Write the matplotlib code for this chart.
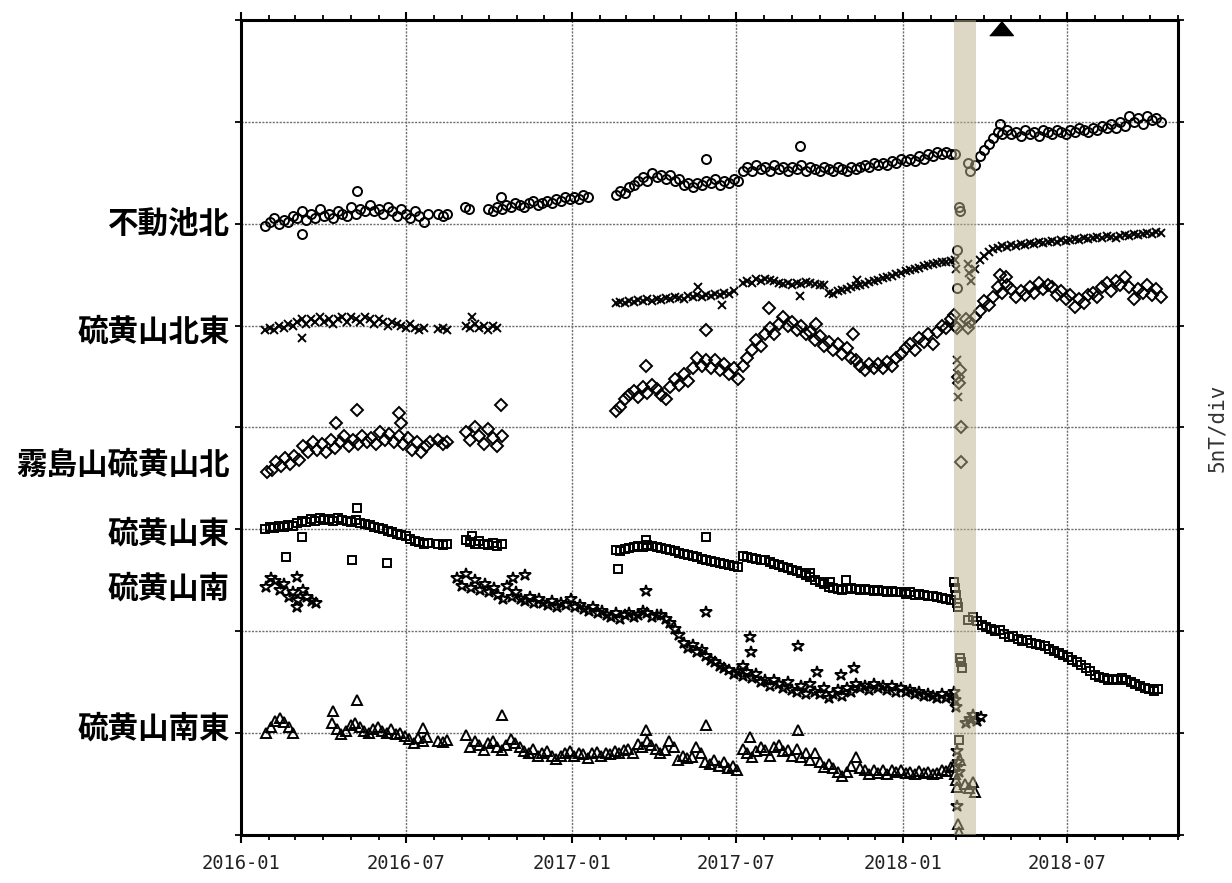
import pandas as pd
import matplotlib
matplotlib.use('Agg')
import matplotlib.pyplot as plt
import matplotlib.dates as mdates

STEP = 5  # days between samples inside a run

stations = ['不動池北', '硫黄山北東', '霧島山硫黄山北', '硫黄山東', '硫黄山南', '硫黄山南東']
label_levels = [30.0, 24.7, 18.2, 14.8, 12.1, 5.2]
markers = ['o', 'x', 'D', 's', '*', '^']
msizes = [6.5, 6.0, 6.0, 5.8, 9.0, 7.2]

# ---- 不動池北 (nT, runs sampled every STEP days) ----
fudo_runs = [
    ('2016-01-28', [29.9, 30.1, 30.3, 30.0, 30.2, 30.1, 30.4, 30.3, 30.6, 30.2, 30.5, 30.3, 30.7, 30.4,
                    30.5, 30.3, 30.6, 30.5, 30.4, 30.8, 30.5, 30.7, 30.6, 30.9, 30.6, 30.7, 30.5, 30.8,
                    30.6, 30.4, 30.7, 30.5, 30.3, 30.6, 30.4, 30.1, 30.5]),
    ('2016-08-06', [30.5, 30.4, 30.5]),
    ('2016-09-04', [30.8, 30.7]),
    ('2016-09-30', [30.7, 30.6, 30.8, 30.7, 30.9, 30.8, 31.0, 30.9, 30.8, 31.0, 31.1, 30.9, 31.0, 31.1,
                    31.0, 31.2, 31.1, 31.3, 31.2, 31.3, 31.2, 31.4, 31.3]),
    ('2017-02-18', [31.4, 31.6, 31.5, 31.8, 31.9, 32.1, 32.3, 32.1, 32.5, 32.3, 32.4, 32.2, 32.4, 32.1,
                    32.2, 31.9, 32.0, 31.8, 32.0, 31.9, 32.1, 32.0, 32.2, 31.9, 32.1, 32.0, 32.2, 32.1,
                    32.6, 32.8, 32.6, 32.9, 32.7, 32.8, 32.6, 32.9, 32.7, 32.8, 32.6, 32.8, 32.7, 32.9,
                    32.6, 32.8, 32.7, 32.6, 32.8, 32.7, 32.6, 32.8, 32.7, 32.6, 32.8, 32.7, 32.8, 32.9,
                    32.8, 33.0, 32.9, 33.0, 32.9, 33.1, 33.0, 33.2, 33.1, 33.2, 33.1, 33.3, 33.2, 33.4,
                    33.3, 33.5, 33.4, 33.5, 33.4]),
    ('2018-03-22', [32.9, 33.3, 33.6, 33.9, 34.2, 34.5, 34.4, 34.6, 34.4, 34.5, 34.3, 34.6, 34.4, 34.5,
                    34.3, 34.6, 34.5, 34.4, 34.6, 34.5, 34.4, 34.6, 34.5, 34.7, 34.6, 34.5, 34.7, 34.6,
                    34.8, 34.7, 34.9, 34.7, 35.0, 34.8, 35.3, 35.0, 35.2, 34.9, 35.3, 35.1, 35.2, 35.0]),
]
fudo_extra = [('2016-03-08', 29.5), ('2016-05-08', 31.6), ('2016-10-14', 31.3), ('2017-05-29', 33.2),
              ('2017-09-10', 33.8), ('2018-02-28', 33.4), ('2018-03-02', 28.7), ('2018-03-02', 26.85),
              ('2018-03-04', 30.8), ('2018-03-05', 30.6), ('2018-03-14', 33.0), ('2018-03-16', 32.6),
              ('2018-04-18', 34.9)]

# ---- 硫黄山北東 ----
kitato_runs = [
    ('2016-01-28', [24.8, 24.9, 24.8, 25.0, 24.9, 25.1, 25.0, 25.2, 25.3, 25.1, 25.3, 25.2, 25.4, 25.2,
                    25.3, 25.1, 25.3, 25.4, 25.2, 25.4, 25.3, 25.2, 25.4, 25.3, 25.1, 25.3, 25.2, 25.0,
                    25.2, 25.1, 25.0, 24.9, 25.1, 24.9, 24.8, 24.9]),
    ('2016-08-06', [24.85, 24.9, 24.8]),
    ('2016-09-05', [25.0, 24.9, 25.1, 24.9, 25.0, 24.8, 25.0, 24.9]),
    ('2017-02-18', [26.1, 26.15, 26.1, 26.2, 26.15, 26.25, 26.2, 26.3, 26.2, 26.3, 26.25, 26.35, 26.3,
                    26.4, 26.35, 26.3, 26.45, 26.4, 26.5, 26.4, 26.5, 26.45, 26.55, 26.5, 26.6, 26.55,
                    26.7]),
    ('2017-07-08', [27.1, 27.2, 27.1, 27.3, 27.2, 27.3, 27.25, 27.2, 27.1, 27.05, 27.1, 27.0, 27.1,
                    27.05, 27.15, 27.1, 27.05, 27.0, 27.0, 26.6, 26.55, 26.7, 26.75, 26.8, 26.9, 26.95,
                    27.0, 27.05, 27.15, 27.2, 27.25, 27.35, 27.4, 27.45, 27.55, 27.6, 27.7, 27.75, 27.8,
                    27.85, 27.9, 27.95, 28.0, 28.05, 28.1, 28.1, 28.15]),
    ('2018-03-22', [27.8, 28.2, 28.4, 28.6, 28.75, 28.8, 28.9, 28.85, 28.95, 28.9, 29.0, 28.95, 29.05,
                    29.0, 29.1, 29.05, 29.1, 29.15, 29.1, 29.2, 29.15, 29.2, 29.25, 29.2, 29.3, 29.25,
                    29.3, 29.35, 29.3, 29.4, 29.35, 29.3, 29.4, 29.45, 29.4, 29.5, 29.45, 29.5, 29.55,
                    29.5, 29.6, 29.55]),
]
kitato_extra = [('2016-03-08', 24.4), ('2016-09-12', 25.4), ('2017-05-20', 26.9), ('2017-06-15', 26.0),
                ('2017-09-10', 26.45), ('2017-11-11', 27.25), ('2018-02-28', 28.2), ('2018-03-01', 27.8),
                ('2018-03-02', 23.3), ('2018-03-03', 21.5), ('2018-03-14', 28.0), ('2018-03-15', 27.6),
                ('2018-03-17', 27.2)]

# ---- 霧島山硫黄山北 ----
kita_runs = [
    ('2016-01-30', [17.8, 17.9, 18.3, 18.1, 18.5, 18.2, 18.6, 18.4, 19.1, 18.8, 19.3, 18.9, 19.2, 18.8,
                    19.4, 19.0, 19.3, 19.6, 19.1, 19.4, 19.2, 19.6, 19.3, 19.5, 19.2, 19.8, 19.4, 19.7,
                    19.3, 19.6, 19.2, 19.5, 18.9, 19.3, 18.8, 19.1, 19.3]),
    ('2016-08-06', [19.4, 19.2, 19.3]),
    ('2016-09-05', [19.8, 19.4, 20.0, 19.6, 19.2, 19.9, 19.5, 19.1, 19.6]),
    ('2017-02-18', [20.8, 21.0, 21.4, 21.6, 21.8, 21.5, 22.0, 21.7, 22.1, 21.9, 21.6, 21.4, 22.0, 22.4,
                    22.1, 22.6, 22.3, 22.9, 23.4, 23.0, 23.3, 22.9, 23.3, 22.8, 23.1, 22.6, 22.9, 22.4]),
    ('2017-07-08', [23.0, 23.4, 23.8, 24.3, 24.0, 24.6, 24.9, 24.6, 25.1, 25.4, 25.0, 25.2, 24.8, 25.0,
                    24.6, 24.7, 24.3, 24.5, 24.0, 24.2, 23.8, 24.1, 23.6, 23.9, 23.4, 23.3, 23.0, 22.8,
                    23.1, 22.9, 23.1, 22.9, 23.2, 23.0, 23.4, 23.6, 23.9, 24.1, 23.8, 24.4, 24.2, 24.6,
                    24.1, 24.7, 25.0, 24.9, 25.3]),
    ('2018-03-22', [25.4, 25.7, 26.2, 26.0, 26.4, 26.9, 26.6, 27.0, 26.8, 26.4, 26.7, 26.5, 26.9, 26.6,
                    27.1, 26.8, 27.0, 26.9, 26.5, 26.7, 26.3, 26.5, 25.9, 26.3, 26.1, 26.5, 26.6, 26.4,
                    26.9, 27.1, 26.7, 27.2, 27.0, 27.4, 26.9, 26.3, 26.8, 26.6, 27.0, 26.5, 26.8, 26.4]),
]
kita_extra = [('2016-04-15', 20.2), ('2016-05-08', 20.85), ('2016-06-23', 20.7), ('2016-06-26', 20.2),
              ('2016-10-14', 21.1), ('2017-03-23', 23.0), ('2017-05-29', 24.8), ('2017-08-06', 25.85),
              ('2017-09-27', 25.1), ('2017-11-07', 24.6), ('2018-02-27', 25.5), ('2018-02-28', 25.0),
              ('2018-03-02', 24.9), ('2018-03-03', 22.5), ('2018-03-04', 22.2), ('2018-03-05', 22.8),
              ('2018-03-06', 20.0), ('2018-03-06', 18.3), ('2018-03-12', 25.3), ('2018-03-14', 24.9),
              ('2018-03-16', 25.2), ('2018-04-18', 27.5), ('2018-04-25', 27.4)]

# ---- 硫黄山東 ----
higashi_runs = [
    ('2016-01-28', [15.0, 15.1, 15.05, 15.15, 15.1, 15.2, 15.15, 15.3, 15.4, 15.35, 15.5, 15.4, 15.55,
                    15.45, 15.5, 15.4, 15.55, 15.45, 15.4, 15.35, 15.45, 15.3, 15.25, 15.2, 15.1, 15.05,
                    15.0, 14.9, 14.85, 14.75, 14.7, 14.65, 14.55, 14.45, 14.4, 14.3, 14.35]),
    ('2016-08-06', [14.3, 14.25, 14.3]),
    ('2016-09-05', [14.5, 14.4, 14.3, 14.45, 14.3, 14.25, 14.35, 14.2, 14.3]),
    ('2017-02-18', [14.0, 13.95, 14.05, 14.1, 14.15, 14.2, 14.15, 14.25, 14.2, 14.15, 14.1, 14.05, 14.0,
                    13.95, 13.85, 13.8, 13.75, 13.7, 13.65, 13.55, 13.5, 13.45, 13.4, 13.35, 13.3, 13.25,
                    13.2, 13.15]),
    ('2017-07-08', [13.7, 13.65, 13.6, 13.55, 13.5, 13.5, 13.4, 13.3, 13.25, 13.15, 13.1, 13.0, 12.95,
                    12.85, 12.75, 12.65, 12.5, 12.4, 12.3, 12.15, 12.1, 12.05, 12.0, 12.05, 12.1, 12.05,
                    12.0, 12.05, 12.0, 11.95, 12.0, 11.95, 11.9, 11.95, 11.9, 11.9, 11.85, 11.9, 11.8,
                    11.85, 11.8, 11.75, 11.75, 11.7, 11.65, 11.6, 11.55]),
    ('2018-03-14', [10.55, 10.7, 10.5, 10.3, 10.2, 10.1, 10.0, 10.05, 9.85, 9.7, 9.75, 9.6, 9.5, 9.55,
                    9.4, 9.35, 9.3, 9.25, 9.15, 9.05, 8.95, 8.85, 8.75, 8.6, 8.5, 8.35, 8.2, 8.05, 7.85,
                    7.75, 7.7, 7.6, 7.65, 7.6, 7.7, 7.6, 7.5, 7.4, 7.3, 7.2, 7.15, 7.05, 7.15]),
]
higashi_extra = [('2016-02-20', 13.65), ('2016-03-08', 14.6), ('2016-05-03', 13.5), ('2016-05-08', 16.05),
                 ('2016-06-10', 13.35), ('2016-09-12', 14.65), ('2017-02-20', 13.05), ('2017-03-23', 14.5),
                 ('2017-05-29', 14.6), ('2017-09-21', 12.85), ('2017-10-13', 12.4), ('2017-10-30', 12.5),
                 ('2018-02-27', 12.4), ('2018-02-28', 12.1), ('2018-03-01', 11.8), ('2018-03-02', 11.4),
                 ('2018-03-03', 11.2), ('2018-03-05', 8.7), ('2018-03-06', 8.5), ('2018-03-07', 8.2),
                 ('2018-03-04', 4.65)]

# ---- 硫黄山南 ----
minami_runs = [
    ('2016-01-29', [12.15, 12.6, 12.45, 12.0, 12.3, 11.7, 11.9, 11.55, 12.0, 11.7, 11.5, 11.4]),
    ('2016-08-27', [12.6, 12.2, 12.8, 12.1, 12.5, 12.0, 12.3, 11.9, 12.1, 11.8, 11.6, 12.2, 11.7, 11.9,
                    11.6, 11.5, 11.7, 11.4, 11.6, 11.4, 11.3, 11.5, 11.2, 11.4, 11.3, 11.6, 11.2, 11.3,
                    11.1, 11.0, 11.2, 10.9, 11.0, 10.8, 10.7, 10.9, 10.6, 10.8, 10.9, 10.7, 10.8, 11.0,
                    10.9, 10.7, 10.8, 10.8, 10.6, 10.4, 10.1, 9.8, 9.4, 9.2, 9.3, 9.0, 9.1, 8.8, 8.6,
                    8.5, 8.3, 8.2, 8.1, 7.9, 8.0, 7.8]),
    ('2017-07-08', [8.3, 8.0, 7.7, 7.9, 7.5, 7.6, 7.3, 7.6, 7.4, 7.2, 7.5, 7.1, 7.0, 7.3, 6.9, 7.4, 7.0,
                    6.9, 7.2, 6.7, 6.9, 7.1, 6.8, 7.2, 7.0, 7.4, 7.2, 7.3, 7.1, 7.4, 7.2, 7.3, 7.1, 7.3,
                    7.0, 7.2, 7.0, 7.1, 6.9, 7.0, 6.8, 6.9, 6.8, 6.7, 6.9, 6.7, 6.8]),
]
minami_extra = [('2016-03-03', 12.65), ('2016-03-03', 11.2), ('2016-10-27', 12.6), ('2016-11-10', 12.75),
                ('2017-03-23', 11.95), ('2017-05-29', 10.95), ('2017-07-16', 9.7), ('2017-07-17', 9.0),
                ('2017-09-07', 9.25), ('2017-09-28', 8.0), ('2017-10-25', 7.85), ('2017-11-08', 8.2),
                ('2018-02-27', 7.0), ('2018-02-28', 6.6), ('2018-03-01', 6.3), ('2018-03-02', 4.1),
                ('2018-03-02', 1.4), ('2018-03-03', 3.6), ('2018-03-04', 3.1), ('2018-03-12', 5.5),
                ('2018-03-16', 5.7), ('2018-03-20', 5.9), ('2018-03-24', 5.6), ('2018-03-28', 5.8)]

# ---- 硫黄山南東 ----
nanto_runs = [
    ('2016-01-29', [5.0, 5.3, 5.6, 5.75, 5.55, 5.3, 5.0]),
    ('2016-04-11', [5.5, 5.2, 4.95, 5.1, 5.4, 5.5, 5.3, 5.1, 5.0, 5.2, 5.3, 5.1, 5.0, 5.2, 4.95, 5.0,
                    4.85, 4.7, 4.5, 4.75, 4.6, 4.8]),
    ('2016-08-06', [4.6, 4.55, 4.65]),
    ('2016-09-05', [4.9, 4.3, 4.6, 4.4, 4.15, 4.5, 4.6, 4.3, 4.15, 4.4, 4.7, 4.5, 4.3, 4.1, 4.0, 4.2,
                    3.9, 4.0, 4.1, 3.9, 3.75, 3.9, 4.0, 4.1, 3.9, 4.0, 3.95, 3.8, 4.0, 4.05, 3.9, 4.0,
                    3.95, 4.1, 4.0, 4.15, 4.2, 4.0, 4.45, 4.3, 4.6, 4.4, 4.2, 4.0, 4.15, 4.6, 4.3, 3.7,
                    3.9, 3.8, 3.85, 4.3, 4.0, 3.6, 3.5, 3.7, 3.4, 3.6, 3.3, 3.4, 3.2]),
    ('2017-07-08', [4.2, 4.0, 3.85, 4.1, 4.3, 4.15, 3.9, 4.3, 4.4, 4.1, 4.15, 3.9, 4.2, 3.85, 4.0, 3.7,
                    4.0, 3.6, 3.35, 3.5, 3.3, 3.1, 2.9, 3.1, 3.4, 3.85, 3.3, 3.2, 3.0, 3.2, 3.05, 3.2,
                    3.0, 3.2, 3.1, 3.2, 3.05, 3.1, 3.0, 3.15, 3.05, 3.1, 3.0, 3.05, 3.2, 3.15, 3.35]),
]
nanto_extra = [('2016-04-12', 6.1), ('2016-05-08', 6.6), ('2016-07-20', 5.25), ('2016-10-15', 5.9),
               ('2017-03-23', 5.15), ('2017-05-29', 5.4), ('2017-07-16', 4.8), ('2017-09-07', 5.15),
               ('2018-02-27', 3.4), ('2018-02-28', 3.0), ('2018-03-01', 2.7), ('2018-03-02', 2.35),
               ('2018-03-03', 0.55), ('2018-03-04', 0.15), ('2018-03-05', 3.7), ('2018-03-11', 2.5),
               ('2018-03-15', 2.3), ('2018-03-19', 2.6), ('2018-03-22', 2.1)]

series_runs = [fudo_runs, kitato_runs, kita_runs, higashi_runs, minami_runs, nanto_runs]
series_extra = [fudo_extra, kitato_extra, kita_extra, higashi_extra, minami_extra, nanto_extra]

band_start, band_end = '2018-02-26', '2018-03-23'
eruption_day = '2018-04-20'


def collect(runs, extra):
    xs, ys = [], []
    for start, vals in runs:
        xs.extend(pd.date_range(start, periods=len(vals), freq=f'{STEP}D'))
        ys.extend(vals)
    for day, v in extra:
        xs.append(pd.Timestamp(day))
        ys.append(v)
    return xs, ys


fig = plt.figure(figsize=(12.32, 8.83), dpi=100)
ax = fig.add_axes([0.1956, 0.0544, 0.7606, 0.9230])

for runs, extra, mk, ms in zip(series_runs, series_extra, markers, msizes):
    xs, ys = collect(runs, extra)
    ax.plot(xs, ys, linestyle='none', marker=mk, ms=ms, mfc='none', mec='black', mew=1.4, zorder=3)

ax.axvspan(pd.Timestamp(band_start), pd.Timestamp(band_end), color='#bdb38d', alpha=0.5, lw=0, zorder=4)

ax.scatter([pd.Timestamp(eruption_day)], [39.62], marker=[(-1, -0.6), (1, -0.6), (0, 0.6)],
           s=17 ** 2, color='black', clip_on=False, zorder=6)

ax.set_xlim(pd.Timestamp('2016-01-01'), pd.Timestamp('2018-11-01'))
ax.set_ylim(0, 40)
ax.set_yticks(range(0, 41, 5))
ax.set_yticklabels([])

ax.xaxis.set_major_locator(mdates.MonthLocator(bymonth=[1, 7]))
ax.xaxis.set_minor_locator(mdates.MonthLocator())
ax.xaxis.set_major_formatter(mdates.DateFormatter('%Y-%m'))

ax.grid(True, which='major', color='#6e6e6e', linestyle=(0, (1.5, 1.0)), linewidth=1.0, zorder=1)
ax.set_axisbelow(True)

ax.tick_params(axis='x', which='major', direction='out', length=6, width=1.5, top=True,
               labelsize=13.5, pad=8)
ax.tick_params(axis='x', which='minor', direction='out', length=3.5, width=1.3, top=True)
ax.tick_params(axis='y', which='major', direction='out', length=4.5, width=1.3, right=True)
for lab in ax.get_xticklabels():
    lab.set_family('DejaVu Sans Mono')
    lab.set_color('#222222')
for sp in ax.spines.values():
    sp.set_linewidth(2.2)

for name, lv in zip(stations, label_levels):
    ax.text(-0.012, lv, name, transform=ax.get_yaxis_transform(), ha='right', va='center',
            fontsize=22, fontweight='bold', family=['Noto Sans CJK JP', 'DejaVu Sans'])

fig.text(0.988, 0.516, '5nT/div', rotation=90, ha='center', va='center',
         fontsize=15, family='DejaVu Sans Mono', color='#333333')

fig.savefig('out.png', dpi=100)
